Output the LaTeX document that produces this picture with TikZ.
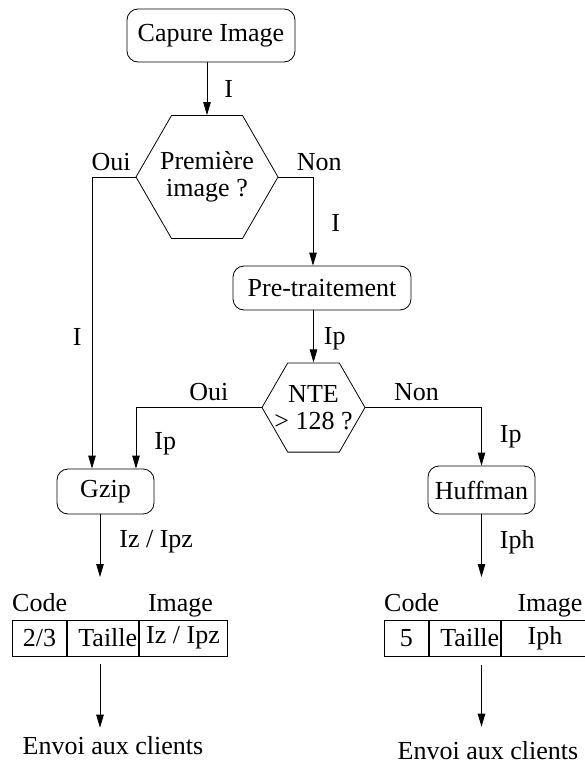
\documentclass[tikz,border=0pt]{standalone}
\usepackage{fontspec}
\setmainfont{Liberation Serif}
\usetikzlibrary{arrows.meta, positioning, shapes.geometric}

\begin{document}
\begin{tikzpicture}[x=1pt, y=-1pt,
  font=\fontsize{26}{27}\selectfont,
  box/.style={draw, rounded corners=11pt, inner sep=2pt, line width=0.8pt},
  hexa/.style={draw, regular polygon, regular polygon sides=6, inner sep=0pt, line width=0.8pt},
  cell/.style={draw, minimum height=36pt, inner sep=0pt, anchor=west, line width=0.8pt},
  lbl/.style={inner sep=0pt},
  arr/.style={-{Triangle[length=13pt, width=7.5pt]}, line width=0.8pt}]
  \useasboundingbox (0,0) rectangle (584,765);
  % chain of steps and tests
  \node[box, minimum width=168pt, minimum height=53pt] (cap) at (211,35.5) {Capure Image};
  \node[hexa, minimum size=142pt, label={[align=center]center:Première\\image ?}] (q1) at (207,177) {};
  \node[box, minimum width=178pt, minimum height=44pt] (pre) at (322,288) {Pre-traitement};
  \node[hexa, minimum size=103pt, label={[align=center]center:NTE\\> 128 ?}] (q2) at (313.5,407.5) {};
  \node[box, minimum width=97pt, minimum height=45pt] (gzip) at (105.5,491.5) {Gzip};
  \node[box, minimum width=107pt, minimum height=48pt] (huff) at (481.5,490) {Huffman};
  \coordinate (inL) at (100,577);
  \coordinate (inR) at (481.5,577);
  % packet sent (left)
  \node[cell, minimum width=54pt] (a1) at (12,638) {2/3};
  \node[cell, minimum width=71pt, text width=69pt, align=right, right=0pt of a1] (a2) {Taille};
  \node[cell, minimum width=88pt, right=0pt of a2] (a3) {Iz / Ipz};
  \node[lbl, anchor=base west] (codeL) at ([yshift=8pt]a1.north west) {Code};
  \node[lbl, anchor=base] (imgL) at ([xshift=-2.5pt, yshift=8pt]a3.north) {Image};
  \node[lbl] (envL) at (113,746) {Envoi aux clients};
  % packet sent (right)
  \node[cell, minimum width=44pt] (b1) at (384,638) {5};
  \node[cell, minimum width=71pt, text width=69pt, align=right, right=0pt of b1] (b2) {Taille};
  \node[cell, minimum width=88pt, right=0pt of b2] (b3) {Iph};
  \node[lbl, anchor=base west] (codeR) at ([yshift=8pt]b1.north west) {Code};
  \node[lbl, anchor=base] (imgR) at ([xshift=5pt, yshift=8pt]b3.north) {Image};
  \node[lbl] (envR) at (488,751) {Envoi aux clients};
  % connectors
  \draw[arr] (cap.south -| q1.north) -- (q1.north) node[lbl, midway, right=17pt] {I};
  \draw[arr] (q1.west) -| ([xshift=-13.5pt]gzip.north) node[lbl, pos=0.28, above=6pt] {Oui} node[lbl, pos=0.775, left=10pt] {I};
  \draw[arr] (q1.east) -| ([xshift=-9pt]pre.north) node[lbl, pos=0.26, above right=6pt and 0pt] {Non} node[lbl, pos=0.76, right=18pt] {I};
  \draw[arr] (pre.south -| q2.north) -- (q2.north) node[lbl, pos=0.55, right=10pt] {Ip};
  \draw[arr] (q2.west) -| ([xshift=30.5pt]gzip.north) node[lbl, pos=0.21, above=6pt] {Oui} node[lbl, pos=0.8, right=18pt] {Ip};
  \draw[arr] (q2.east) -| (huff.north) node[lbl, pos=0.22, above=6pt] {Non} node[lbl, pos=0.75, right=18pt] {Ip};
  \draw[arr] (gzip.south -| inL) -- (inL) node[lbl, pos=0.44, right=19pt] {Iz / Ipz};
  \draw[arr] (huff.south -| inR) -- (inR) node[lbl, pos=0.44, right=18pt] {Iph};
  \draw[arr, shorten <=8pt, shorten >=9pt] (a2.south -| inL) -- (inL |- envL.north);
  \draw[arr, shorten <=9pt, shorten >=15pt] (b2.south -| inR) -- (inR |- envR.north);
\end{tikzpicture}
\end{document}
